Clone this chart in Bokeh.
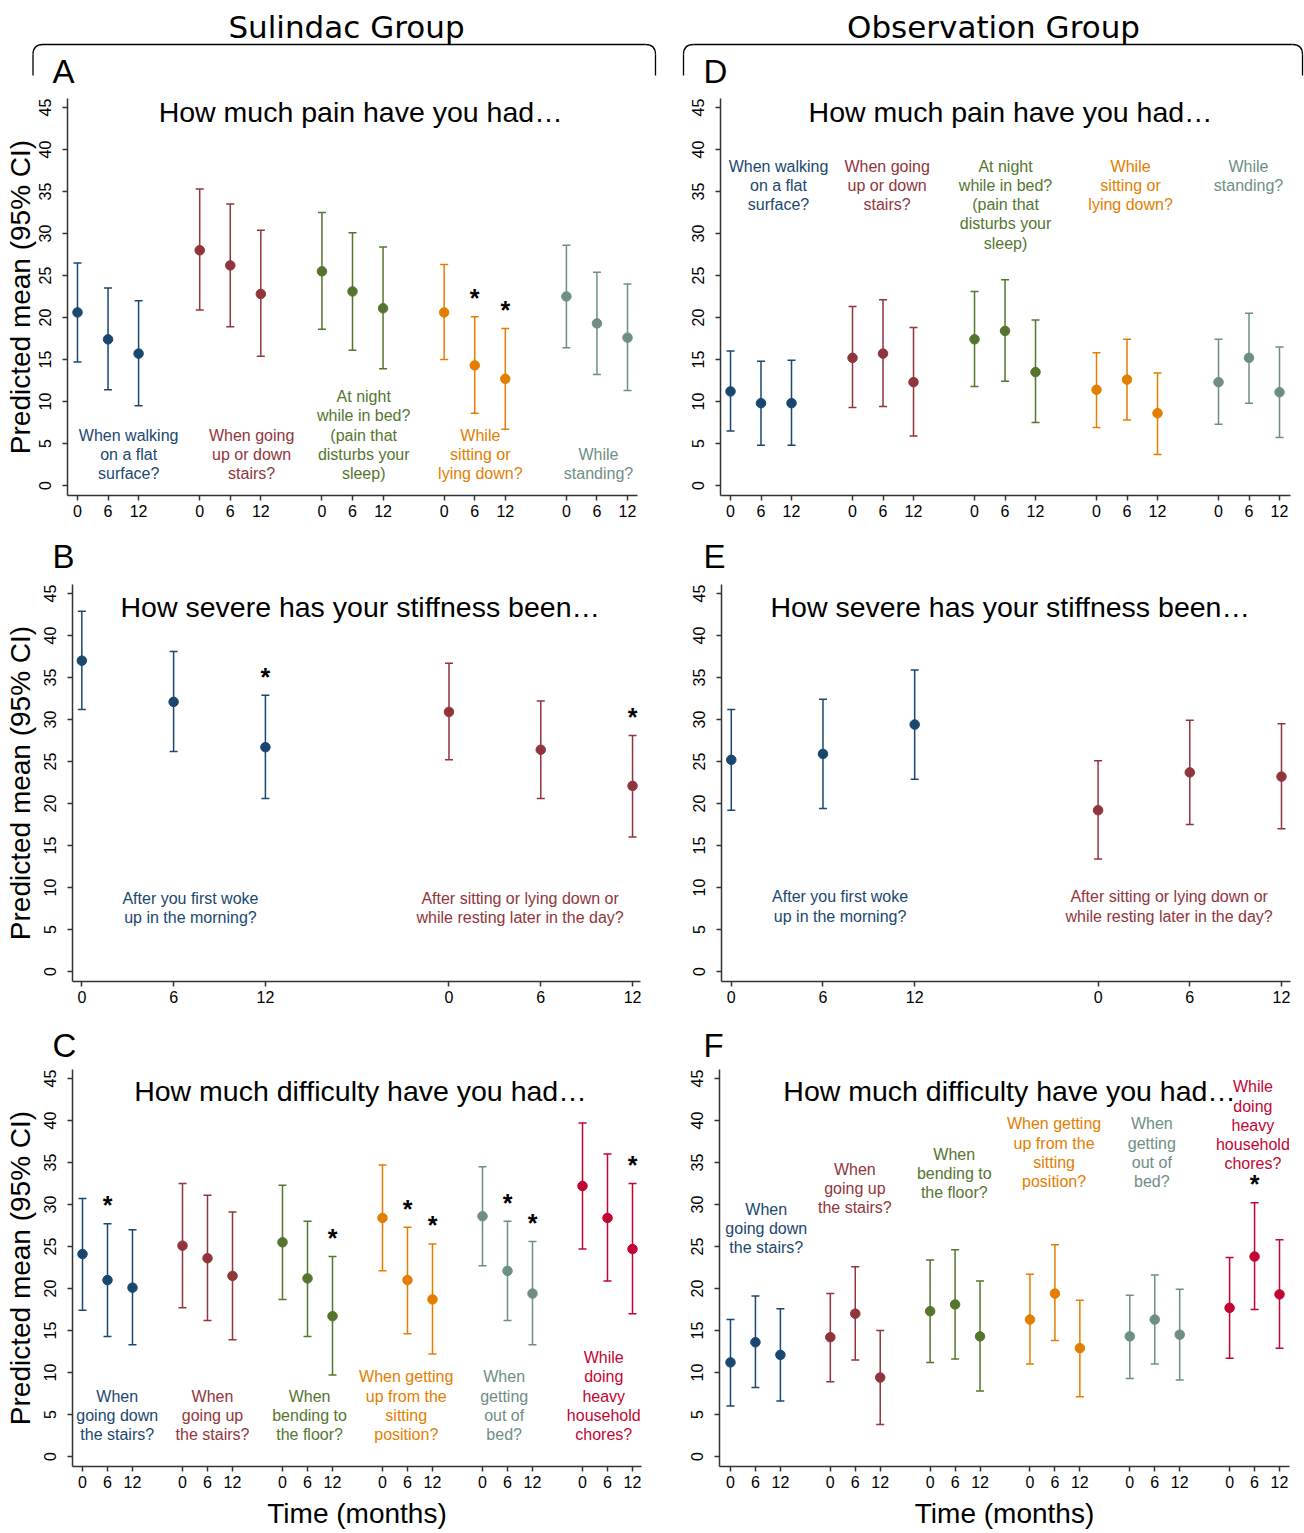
import numpy as np
from bokeh.plotting import figure
from bokeh.layouts import column, row
from bokeh.models import Range1d, FixedTicker, ColumnDataSource
from bokeh.core.properties import value
from bokeh.embed import file_html
from bokeh.resources import INLINE

# ---------------------------------------------------------------- data
MONTHS = [0, 6, 12]
MONTH_LABELS = ["0", "6", "12"]
GROUP_STEP = 24          # spacing between question groups on the x scale
Y_TICKS = [0, 5, 10, 15, 20, 25, 30, 35, 40, 45]

GROUP_TITLES = ["Sulindac Group", "Observation Group"]
PANEL_LETTERS = ["A", "B", "C", "D", "E", "F"]
Y_LABEL = "Predicted mean (95% CI)"
X_LABEL = "Time (months)"

PAIN_TITLE = "How much pain have you had\u2026"
STIFF_TITLE = "How severe has your stiffness been\u2026"
DIFF_TITLE = "How much difficulty have you had\u2026"

PAIN_ITEMS = [["When walking", "on a flat", "surface?"],
              ["When going", "up or down", "stairs?"],
              ["At night", "while in bed?", "(pain that", "disturbs your", "sleep)"],
              ["While", "sitting or", "lying down?"],
              ["While", "standing?"]]
STIFF_ITEMS = [["After you first woke", "up in the morning?"],
               ["After sitting or lying down or", "while resting later in the day?"]]
DIFF_ITEMS = [["When", "going down", "the stairs?"],
              ["When", "going up", "the stairs?"],
              ["When", "bending to", "the floor?"],
              ["When getting", "up from the", "sitting", "position?"],
              ["When", "getting", "out of", "bed?"],
              ["While", "doing", "heavy", "household", "chores?"]]

# Panel A - Sulindac, pain
A_mean = [[20.6, 17.4, 15.7], [28.0, 26.2, 22.8], [25.5, 23.1, 21.1], [20.6, 14.3, 12.7], [22.5, 19.3, 17.6]]
A_lower = [[14.7, 11.4, 9.5], [20.9, 18.9, 15.4], [18.6, 16.1, 13.9], [15.0, 8.6, 6.7], [16.4, 13.2, 11.3]]
A_upper = [[26.5, 23.5, 22.0], [35.3, 33.5, 30.4], [32.5, 30.1, 28.4], [26.3, 20.1, 18.7], [28.6, 25.4, 24.0]]
A_sig = [(3, 1), (3, 2)]

# Panel B - Sulindac, stiffness
B_mean = [[37.0, 32.1, 26.7], [30.9, 26.4, 22.1]]
B_lower = [[31.2, 26.2, 20.6], [25.2, 20.6, 16.0]]
B_upper = [[42.9, 38.1, 32.9], [36.7, 32.2, 28.1]]
B_sig = [(0, 2), (1, 2)]

# Panel C - Sulindac, difficulty
C_mean = [[24.1, 21.0, 20.1], [25.1, 23.6, 21.5], [25.5, 21.2, 16.7], [28.4, 21.0, 18.7], [28.6, 22.1, 19.4], [32.2, 28.4, 24.7]]
C_lower = [[17.4, 14.3, 13.3], [17.7, 16.2, 13.9], [18.7, 14.3, 9.7], [22.1, 14.6, 12.2], [22.7, 16.2, 13.3], [24.7, 20.9, 17.0]]
C_upper = [[30.7, 27.7, 27.0], [32.5, 31.1, 29.1], [32.3, 28.0, 23.8], [34.7, 27.3, 25.3], [34.5, 28.0, 25.6], [39.7, 36.0, 32.5]]
C_sig = [(0, 1), (2, 2), (3, 1), (3, 2), (4, 1), (4, 2), (5, 2)]

# Panel D - Observation, pain
D_mean = [[11.2, 9.8, 9.8], [15.2, 15.7, 12.3], [17.4, 18.4, 13.5], [11.4, 12.6, 8.6], [12.3, 15.2, 11.1]]
D_lower = [[6.5, 4.8, 4.8], [9.3, 9.4, 5.9], [11.8, 12.4, 7.5], [6.9, 7.8, 3.7], [7.3, 9.8, 5.7]]
D_upper = [[16.0, 14.8, 14.9], [21.3, 22.1, 18.8], [23.1, 24.5, 19.7], [15.8, 17.4, 13.4], [17.4, 20.5, 16.5]]
D_sig = []

# Panel E - Observation, stiffness
E_mean = [[25.2, 25.9, 29.4], [19.2, 23.7, 23.2]]
E_lower = [[19.2, 19.4, 22.9], [13.4, 17.5, 17.0]]
E_upper = [[31.2, 32.4, 35.9], [25.1, 29.9, 29.5]]
E_sig = []

# Panel F - Observation, difficulty
F_mean = [[11.2, 13.6, 12.1], [14.2, 17.0, 9.4], [17.3, 18.1, 14.3], [16.3, 19.4, 12.9], [14.3, 16.3, 14.5], [17.7, 23.8, 19.3]]
F_lower = [[6.0, 8.2, 6.6], [8.9, 11.5, 3.8], [11.2, 11.6, 7.8], [11.0, 13.8, 7.1], [9.3, 11.0, 9.1], [11.7, 17.5, 12.9]]
F_upper = [[16.3, 19.1, 17.6], [19.4, 22.6, 15.0], [23.4, 24.6, 20.9], [21.7, 25.2, 18.6], [19.2, 21.6, 19.9], [23.7, 30.2, 25.8]]
F_sig = [(5, 1)]

COLORS = ["#1a476f", "#90353b", "#55752f", "#e37e00", "#6e8e84", "#c10534"]

DATA = {
    "A": dict(mean=A_mean, lower=A_lower, upper=A_upper, sig=A_sig, items=PAIN_ITEMS, title=PAIN_TITLE),
    "B": dict(mean=B_mean, lower=B_lower, upper=B_upper, sig=B_sig, items=STIFF_ITEMS, title=STIFF_TITLE),
    "C": dict(mean=C_mean, lower=C_lower, upper=C_upper, sig=C_sig, items=DIFF_ITEMS, title=DIFF_TITLE),
    "D": dict(mean=D_mean, lower=D_lower, upper=D_upper, sig=D_sig, items=PAIN_ITEMS, title=PAIN_TITLE),
    "E": dict(mean=E_mean, lower=E_lower, upper=E_upper, sig=E_sig, items=STIFF_ITEMS, title=STIFF_TITLE),
    "F": dict(mean=F_mean, lower=F_lower, upper=F_upper, sig=F_sig, items=DIFF_ITEMS, title=DIFF_TITLE),
}

# ---------------------------------------------------------------- layout (positions / styles)
FONT = "Liberation Sans"
Y_LO, Y_HI = -1.19, 46.07
FRAME_H = 397
PPU = FRAME_H / (Y_HI - Y_LO)         # pixels per y unit
LINE_STEP = 19.2 / PPU                 # line spacing of multi-line labels
STAR_OFF = 2.2
TOTAL_W = 1304

LAYOUT = {
    "A": dict(xr=(-1.96, 109.96), title=(55.6, 44.44), lx=[10.05, 34.2, 56.2, 79.1, 102.3], ly=[1.43] * 5, anchor="bottom", ylab_standoff=1),
    "B": dict(xr=(-0.61, 36.52), title=(18.2, 43.39), lx=[7.1, 28.65], ly=[6.43] * 2, anchor="bottom", ylab_standoff=6),
    "C": dict(xr=(-2.40, 134.16), title=(66.7, 43.49), lx=[8.33, 31.2, 54.5, 77.7, 101.2, 125.1], ly=[2.63] * 6, anchor="bottom", ylab_standoff=6),
    "D": dict(xr=(-1.97, 110.16), title=(55.1, 44.44), lx=[9.44, 30.8, 54.1, 78.7, 101.9], ly=[38.0] * 5, anchor="top", ylab_standoff=0),
    "E": dict(xr=(-0.64, 36.59), title=(18.25, 43.35), lx=[7.12, 28.65], ly=[6.6] * 2, anchor="bottom", ylab_standoff=0),
    "F": dict(xr=(-2.64, 134.40), title=(67.1, 43.49), lx=[8.6, 29.9, 53.8, 77.8, 101.3, 125.6], ly=[29.4, 34.2, 36.0, 39.6, 39.6, 44.0], anchor="top", ylab_standoff=0),
}

AXIS_COLOR = "#333333"


def make_panel(key, width, height, bl, br, bt, bb, ylabel=False, xlabel=False):
    d = DATA[key]
    L = LAYOUT[key]
    p = figure(width=width, height=height, x_range=Range1d(*L["xr"]), y_range=Range1d(Y_LO, Y_HI),
               output_backend="svg", toolbar_location=None,
               min_border_left=bl, min_border_right=br, min_border_top=bt, min_border_bottom=bb)
    p.outline_line_color = None
    p.xgrid.visible = False
    p.ygrid.visible = False
    p.background_fill_color = "white"
    p.border_fill_color = "white"

    n_groups = len(d["mean"])
    ticks, overrides = [], {}
    for g in range(n_groups):
        for t, lab in zip(MONTHS, MONTH_LABELS):
            pos = g * GROUP_STEP + t
            ticks.append(pos)
            overrides[pos] = lab
    p.xaxis.ticker = FixedTicker(ticks=ticks)
    p.xaxis.major_label_overrides = overrides
    p.yaxis.ticker = FixedTicker(ticks=Y_TICKS)
    p.yaxis.major_label_orientation = "vertical"

    for ax in (p.xaxis[0], p.yaxis[0]):
        ax.axis_line_color = AXIS_COLOR
        ax.axis_line_width = 1.5
        ax.major_tick_line_color = AXIS_COLOR
        ax.major_tick_line_width = 1.5
        ax.major_tick_out = 5
        ax.major_tick_in = 0
        ax.minor_tick_line_color = None
        ax.major_label_text_font = FONT
        ax.major_label_text_font_size = "16px"
        ax.major_label_text_color = "black"
        ax.major_label_standoff = 4
    p.yaxis.major_label_standoff = 11

    if ylabel:
        p.yaxis.axis_label = Y_LABEL
        p.yaxis.axis_label_text_font = FONT
        p.yaxis.axis_label_text_font_size = "28px"
        p.yaxis.axis_label_text_font_style = "normal"
        p.yaxis.axis_label_text_color = "black"
        p.yaxis.axis_label_standoff = L["ylab_standoff"]
    if xlabel:
        p.xaxis.axis_label = X_LABEL
        p.xaxis.axis_label_text_font = FONT
        p.xaxis.axis_label_text_font_size = "28px"
        p.xaxis.axis_label_text_font_style = "normal"
        p.xaxis.axis_label_text_color = "black"
        p.xaxis.axis_label_standoff = 7

    for g in range(n_groups):
        c = COLORS[g]
        xs = [g * GROUP_STEP + t for t in MONTHS]
        src = ColumnDataSource(dict(x=xs, m=d["mean"][g], lo=d["lower"][g], hi=d["upper"][g]))
        p.segment(x0="x", y0="lo", x1="x", y1="hi", source=src, line_color=c, line_width=1.5)
        p.scatter(x="x", y="hi", source=src, marker="dash", size=8, line_color=c, line_width=1.5)
        p.scatter(x="x", y="lo", source=src, marker="dash", size=8, line_color=c, line_width=1.5)
        p.scatter(x="x", y="m", source=src, marker="circle", size=9.5, fill_color=c, line_color=c)

        lines = d["items"][g]
        n = len(lines)
        y0 = L["ly"][g]
        if L["anchor"] == "bottom":
            ys = [y0 + (n - 1 - k) * LINE_STEP for k in range(n)]
        else:
            ys = [y0 - k * LINE_STEP for k in range(n)]
        p.text(x=[L["lx"][g]] * n, y=ys, text=lines, text_color=c, text_font=value(FONT),
               text_font_size="16px", text_align="center", text_baseline="middle")

    if d["sig"]:
        sx = [g * GROUP_STEP + MONTHS[i] for g, i in d["sig"]]
        sy = [d["upper"][g][i] + STAR_OFF for g, i in d["sig"]]
        p.text(x=sx, y=sy, text=["*"] * len(sx), text_color="black", text_font=value(FONT),
               text_font_size="25px", text_font_style="bold", text_align="center", text_baseline="middle")

    tx, ty = L["title"]
    p.text(x=[tx], y=[ty], text=[d["title"]], text_color="black", text_font=value(FONT),
           text_font_size="28.5px", text_align="center", text_baseline="middle")
    return p


def deco_fig(height, top):
    p = figure(width=TOTAL_W, height=height, x_range=Range1d(0, TOTAL_W), y_range=Range1d(top + height, top),
               output_backend="svg", toolbar_location=None, min_border=0,
               x_axis_type=None, y_axis_type=None)
    p.outline_line_color = None
    p.xgrid.visible = False
    p.ygrid.visible = False
    return p


def letter(p, x, y, s):
    p.text(x=[x], y=[y], text=[s], text_color="black", text_font=value(FONT), text_font_size="33px",
           text_align="left", text_baseline="middle")


def brace(p, xl, xr, yt=44, yb=75, r=10):
    kw = dict(line_color="black", line_width=1.3)
    p.line([xl, xl], [yb, yt + r], **kw)
    p.quadratic(x0=[xl], y0=[yt + r], x1=[xl + r], y1=[yt], cx=[xl], cy=[yt], **kw)
    p.line([xl + r, xr - r], [yt, yt], **kw)
    p.quadratic(x0=[xr - r], y0=[yt], x1=[xr], y1=[yt + r], cx=[xr], cy=[yt], **kw)
    p.line([xr, xr], [yt + r, yb], **kw)


# header: group titles, braces, letters A / D
header = deco_fig(90, 0)
for cx, t in zip([346, 993], GROUP_TITLES):
    header.text(x=[cx], y=[26.2], text=[t], text_color="black", text_font=value("DejaVu Sans"),
                text_font_size="31px", text_align="center", text_baseline="middle")
brace(header, 32.5, 655)
brace(header, 683, 1302)
letter(header, 52, 70.5, PANEL_LETTERS[0])
letter(header, 703, 70.5, PANEL_LETTERS[3])

row_be = deco_fig(47, 530)
letter(row_be, 52, 555.5, PANEL_LETTERS[1])
letter(row_be, 703, 555.5, PANEL_LETTERS[4])

row_cf = deco_fig(46, 1016)
letter(row_cf, 52, 1044.5, PANEL_LETTERS[2])
letter(row_cf, 703, 1044.5, PANEL_LETTERS[5])

LW, RW = 662, 642
pA = make_panel("A", LW, 440, 67, 25, 8, 35, ylabel=True)
pD = make_panel("D", RW, 440, 58, 14, 8, 35)
pB = make_panel("B", LW, 439, 72, 22, 7, 35, ylabel=True)
pE = make_panel("E", RW, 439, 59, 14, 7, 35)
pC = make_panel("C", LW, 470, 72, 21, 7, 66, ylabel=True, xlabel=True)
pF = make_panel("F", RW, 470, 57, 15, 7, 66, xlabel=True)

layout = column(header, row(pA, pD), row_be, row(pB, pE), row_cf, row(pC, pF))

open("out.html", "w").write(file_html(layout, INLINE))
